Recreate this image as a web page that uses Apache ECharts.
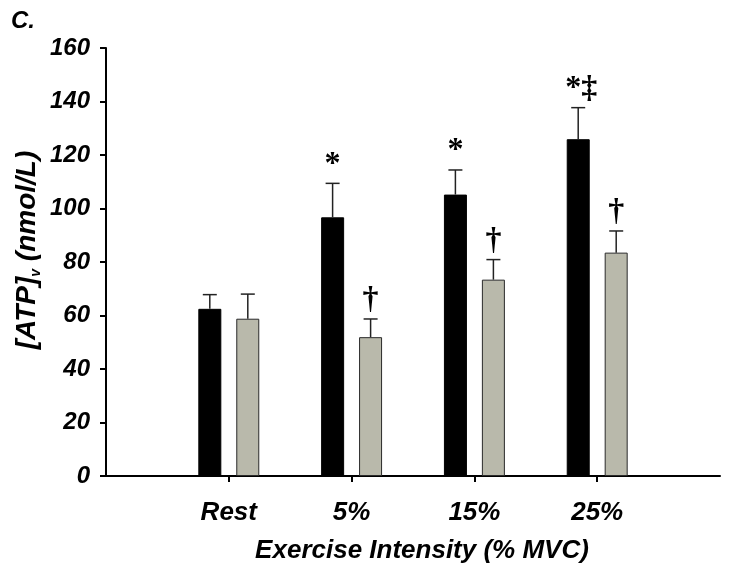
<!DOCTYPE html>
<html>
<head>
<meta charset="utf-8">
<script src="https://cdn.jsdelivr.net/npm/echarts@6/dist/echarts.min.js"></script>
<style>html,body{margin:0;padding:0;background:#fff;}#c{width:729px;height:572px;}</style>
</head>
<body>
<div id="c"></div>
<script>
const categories = ['Rest', '5%', '15%', '25%'];
const xPositions = [1, 2, 3, 4];
const blackMean = [62.5, 96.7, 105.2, 125.9];
const blackErr = [5.3, 12.7, 9.2, 11.8];
const grayMean = [58.8, 51.9, 73.4, 83.5];
const grayErr = [9.2, 6.8, 7.5, 8.1];
const blackMarks = ['', '*', '*', '*\u2021'];
const grayMarks = ['', '\u2020', '\u2020', '\u2020'];
const yTickValues = [0, 20, 40, 60, 80, 100, 120, 140, 160];

const FONT = 'Liberation Sans, Arial, sans-serif';
const chart = echarts.init(document.getElementById('c'));

function errSeries(name, means, errs, marks, offset) {
  return {
    type: 'custom',
    name: name,
    z: 5,
    data: xPositions.map((x, i) => [x, means[i], errs[i], marks[i]]),
    renderItem: function (params, api) {
      const x = api.value(0), m = api.value(1), e = api.value(2);
      const mark = marks[params.dataIndex];
      const top = api.coord([x, m + e]);
      const base = api.coord([x, m]);
      const cx = top[0] + offset;
      const children = [
        { type: 'line', shape: { x1: cx, y1: base[1], x2: cx, y2: top[1] }, style: { stroke: '#222', lineWidth: 1.5 } },
        { type: 'line', shape: { x1: cx - 7, y1: top[1], x2: cx + 7, y2: top[1] }, style: { stroke: '#222', lineWidth: 1.5 } }
      ];
      if (mark) {
        children.push({
          type: 'text',
          style: {
            text: mark, x: cx + (mark.length > 1 ? 3 : 0), y: top[1] - 3,
            align: 'center', verticalAlign: 'bottom',
            font: 'bold 32px "Liberation Serif", "Times New Roman", serif', fill: '#000'
          }
        });
      }
      return { type: 'group', children: children };
    }
  };
}

chart.setOption({
  animation: false,
  backgroundColor: '#fff',
  grid: { left: 106, right: 9, top: 48, bottom: 96, containLabel: false },
  title: {
    text: 'C.', left: 6, top: 4,
    textStyle: { fontFamily: FONT, fontWeight: 'bold', fontStyle: 'italic', fontSize: 24, color: '#000' }
  },
  xAxis: {
    type: 'value', min: 0, max: 5, interval: 1,
    name: 'Exercise Intensity (% MVC)', nameLocation: 'middle', nameGap: 62,
    nameTextStyle: { fontFamily: FONT, fontWeight: 'bold', fontStyle: 'italic', fontSize: 26, color: '#000', padding: [0, 0, 0, 18] },
    axisLine: { show: true, onZero: false, lineStyle: { color: '#000', width: 2 } },
    axisTick: { show: true, customValues: xPositions, length: 6, lineStyle: { color: '#000', width: 2 } },
    axisLabel: {
      customValues: xPositions, margin: 24,
      formatter: v => categories[xPositions.indexOf(v)] || '',
      fontFamily: FONT, fontWeight: 'bold', fontStyle: 'italic', fontSize: 26, color: '#000'
    },
    splitLine: { show: false }
  },
  yAxis: {
    type: 'value', min: 0, max: 160, interval: 20,
    axisLine: { show: true, lineStyle: { color: '#000', width: 2 } },
    axisTick: { show: true, length: 6, lineStyle: { color: '#000', width: 2 } },
    axisLabel: {
      margin: 16, fontFamily: FONT, fontWeight: 'bold', fontStyle: 'italic', fontSize: 24, color: '#000'
    },
    splitLine: { show: false }
  },
  graphic: [{
    type: 'text', x: 27, y: 250, rotation: Math.PI / 2,
    style: {
      text: '{a|[ATP]}{s|v}{a| (nmol/L)}',
      align: 'center', verticalAlign: 'middle',
      rich: {
        a: { fontFamily: FONT, fontWeight: 'bold', fontStyle: 'italic', fontSize: 28, fill: '#000', lineHeight: 32 },
        s: { fontFamily: FONT, fontWeight: 'bold', fontStyle: 'italic', fontSize: 14, fill: '#000', padding: [12, 0, 0, 0], lineHeight: 32, verticalAlign: 'bottom' }
      }
    }
  }],
  series: [
    {
      type: 'bar', name: 'black', barWidth: 23, barGap: '65%',
      data: xPositions.map((x, i) => [x, blackMean[i]]),
      itemStyle: { color: '#000', borderColor: '#000', borderWidth: 1 }
    },
    {
      type: 'bar', name: 'gray', barWidth: 23,
      data: xPositions.map((x, i) => [x, grayMean[i]]),
      itemStyle: { color: '#b9b9ab', borderColor: '#2a2a2a', borderWidth: 1 }
    },
    errSeries('blackErr', blackMean, blackErr, blackMarks, -19),
    errSeries('grayErr', grayMean, grayErr, grayMarks, 19)
  ]
});
</script>
</body>
</html>
